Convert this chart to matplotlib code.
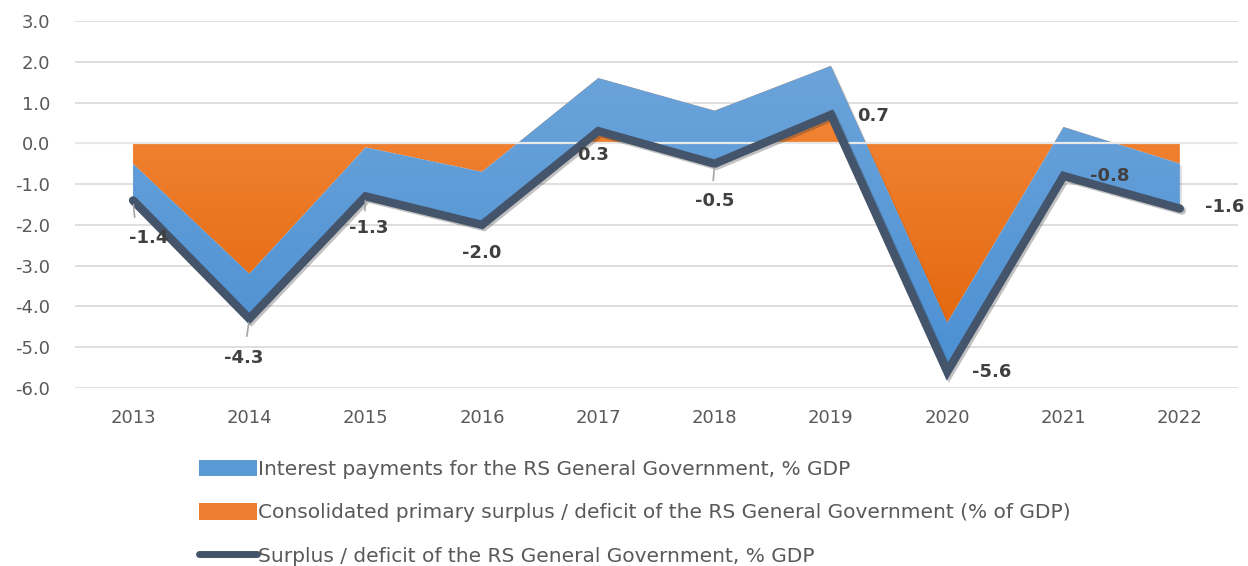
import numpy as np
import matplotlib
matplotlib.use("Agg")
import matplotlib.pyplot as plt
import matplotlib.patheffects as pe
from matplotlib.lines import Line2D
from matplotlib.patches import Patch

# general government balance, % of GDP
years = ["2013", "2014", "2015", "2016", "2017", "2018", "2019", "2020", "2021", "2022"]
overall_balance = [-1.4, -4.3, -1.3, -2.0, 0.3, -0.5, 0.7, -5.6, -0.8, -1.6]
primary_balance = [-0.5, -3.2, -0.1, -0.7, 1.6, 0.8, 1.9, -4.4, 0.4, -0.5]

lbl_interest = "Interest payments for the RS General Government, % GDP"
lbl_primary = "Consolidated primary surplus / deficit of the RS General Government (% of GDP)"
lbl_overall = "Surplus / deficit of the RS General Government, % GDP"

# label offsets in points (dx, dy)
offsets = [(11, -27), (-4, -28), (2, -23), (0, -20), (-4, -17), (0, -27),
           (30, -1), (32, 0), (33, 0), (32, 1)]
leaders = [True, True, True, False, False, True, False, False, False, False]

x = np.arange(len(years))
overall = np.array(overall_balance)
primary = np.array(primary_balance)

fig = plt.figure(figsize=(12.48, 5.66), dpi=100)
ax = fig.add_axes([0.060, 0.3145, 0.932, 0.6484])

grad = np.linspace(0, 1, 256).reshape(-1, 1)

# orange area, lighter near zero and darker further down
orange_poly = ax.fill_between(x, 0, primary, color="none", lw=0, zorder=2)
cmap_o = matplotlib.colors.LinearSegmentedColormap.from_list("o", ["#E4680F", "#F58B3E"])
img = ax.imshow(grad, cmap=cmap_o, aspect="auto", extent=[-0.5, 9.5, -4.5, 2.0],
                origin="lower", zorder=2)
img.set_clip_path(orange_poly.get_paths()[0], transform=ax.transData)

# blue band between primary and overall balance
blue_poly = ax.fill_between(x, primary, overall, color="#000000", alpha=0.0, lw=0, zorder=2.9,
                            path_effects=[pe.SimplePatchShadow(offset=(1.5, -1.5), alpha=0.12)])
cmap_b = matplotlib.colors.LinearSegmentedColormap.from_list("b", ["#4A8FD3", "#6CA4DA"])
img2 = ax.imshow(grad, cmap=cmap_b, aspect="auto", extent=[-0.5, 9.5, -6.0, 2.0],
                 origin="lower", zorder=3)
img2.set_clip_path(blue_poly.get_paths()[0], transform=ax.transData)

ax.axhline(0, color="#E8E8E8", lw=1.6, zorder=3.5)

ax.plot(x, overall, color="#44546A", lw=6, solid_capstyle="round", solid_joinstyle="miter",
        zorder=4, path_effects=[pe.SimpleLineShadow(offset=(1.5, -1.5), alpha=0.3, shadow_color="#333333"),
                                pe.Normal()])

for i, v in enumerate(overall):
    dx, dy = offsets[i]
    ax.annotate(f"{v:.1f}", (x[i], v), xytext=(dx, dy), textcoords="offset points",
                ha="center", va="center", fontsize=13, fontweight="bold", color="#404040", zorder=6)
    if leaders[i]:
        ax.annotate("", (x[i], v), xytext=(dx * 0.2 - 1, dy * 0.45), textcoords="offset points",
                    arrowprops=dict(arrowstyle="-", color="#A6A6A6", lw=1.2,
                                    shrinkA=0, shrinkB=3), zorder=5)

ax.set_xlim(-0.5, 9.5)
ax.set_ylim(-6.0, 3.0)
ax.set_yticks(np.arange(-6, 3.01, 1.0))
ax.set_yticklabels([f"{t:.1f}" for t in np.arange(-6, 3.01, 1.0)])
ax.set_xticks(x)
ax.set_xticklabels(years)
ax.tick_params(axis="both", length=0, labelsize=13, labelcolor="#595959")
ax.tick_params(axis="x", pad=15)
ax.tick_params(axis="y", pad=18)
ax.grid(axis="y", color="#D9D9D9", lw=1.2, zorder=0)
ax.set_axisbelow(True)
for s in ax.spines.values():
    s.set_visible(False)

handles = [Patch(facecolor="#5B9BD5", edgecolor="none"),
           Patch(facecolor="#ED7D31", edgecolor="none"),
           Line2D([0], [0], color="#44546A", lw=5, solid_capstyle="round")]
leg = fig.legend(handles, [lbl_interest, lbl_primary, lbl_overall], loc="upper left",
                 bbox_to_anchor=(0.145, 0.22), frameon=False, handlelength=2.9,
                 handleheight=0.9, handletextpad=0.05, labelspacing=1.2,
                 prop={"family": "DejaVu Sans", "size": 14.5})
for t in leg.get_texts():
    t.set_color("#595959")

fig.savefig("out.png", dpi=100, facecolor="white")
